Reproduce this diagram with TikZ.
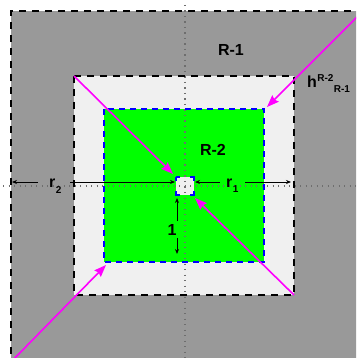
\documentclass[tikz,border=0pt]{standalone}
\usepackage{fontspec}
\setmainfont{Liberation Sans}
\usetikzlibrary{arrows.meta}
\definecolor{outergray}{RGB}{153,153,153}
\definecolor{lightfill}{RGB}{240,240,240}
\definecolor{greenfill}{RGB}{0,255,0}
\definecolor{mag}{RGB}{255,0,255}
\definecolor{dotgray}{RGB}{110,110,110}
\tikzset{
  blackdash/.style={draw=black,line width=1.3pt,dash pattern=on 7pt off 6pt},
  bluedash/.style={draw=blue,line width=1.4pt,dash pattern=on 6pt off 5pt},
  axisdot/.style={draw=dotgray,line width=1.1pt,dash pattern=on 1.1pt off 4.4pt},
  magarrow/.style={draw=mag,line width=1.6pt,-{Stealth[length=12pt,width=9pt,inset=1.5pt]}},
  dimarrow/.style={draw=black,line width=0.8pt,-{Stealth[length=5pt,width=4pt]}},
  lab/.style={font=\fontsize{16}{16}\selectfont\bfseries,inner sep=0pt,anchor=base},
  smallab/.style={font=\fontsize{10}{10}\selectfont\bfseries,inner sep=0pt,anchor=base west}
}
\begin{document}
\begin{tikzpicture}[x=1pt,y=-1pt]
\useasboundingbox (0,0) rectangle (356,358);
\clip (0,0) rectangle (356,358);
% fills
\fill[white] (0,0) rectangle (356,358);
\fill[outergray] (11,11) rectangle (380,380);
\fill[lightfill] (74,76) rectangle (294,295);
\fill[greenfill] (104,109) rectangle (264,262);
\fill[lightfill] (176,177) rectangle (194,195);
% axes
\draw[axisdot] (185,5) -- (185,358);
\draw[axisdot] (3,186) -- (356,186);
% borders
\draw[blackdash] (11,380) -- (11,11) -- (380,11);
\draw[blackdash] (74,76) rectangle (294,295);
\draw[bluedash] (104,109) rectangle (264,262);
\draw[draw=blue,line width=1.6pt,dash pattern=on 8pt off 10pt,dash phase=4pt] (176,177) -- (194,177) -- (194,195) -- (176,195) -- cycle;
% coordinates
\coordinate (m1s) at (74,76);
\coordinate (m1e) at (173,174);
\coordinate (m2s) at (294,295);
\coordinate (m2e) at (195,198);
\coordinate (m3s) at (366,8);
\coordinate (m3e) at (267,107);
\coordinate (m4s) at (8,365);
\coordinate (m4e) at (106,265);
\draw[magarrow] (m1s) -- (m1e);
\draw[magarrow] (m2s) -- (m2e);
\draw[magarrow] (m3s) -- (m3e);
\draw[magarrow] (m4s) -- (m4e);
% dimension arrows
\coordinate (r1a) at (220,182);
\coordinate (r1b) at (195,182);
\coordinate (r1c) at (245,182);
\coordinate (r1d) at (291,182);
\draw[dimarrow] (r1a) -- (r1b);
\draw[dimarrow] (r1c) -- (r1d);
\coordinate (r2a) at (38,182);
\coordinate (r2b) at (12,182);
\coordinate (r2c) at (70,182);
\coordinate (r2d) at (175,182);
\draw[dimarrow] (r2a) -- (r2b);
\draw[dimarrow] (r2c) -- (r2d);
\coordinate (oa) at (177,221);
\coordinate (ob) at (177,198);
\coordinate (oc) at (177,238);
\coordinate (od) at (177,254);
\draw[dimarrow] (oa) -- (ob);
\draw[dimarrow] (oc) -- (od);
% labels
\node[lab] (R1) at (231,56) {R-1};
\node[lab] (R2) at (213,156) {R-2};
\node[lab,anchor=base west] (r1) at (226,187) {r};
\node[smallab] (r1s) at (r1.base east) [yshift=-5.5pt] {1};
\node[lab,anchor=base west] (r2) at (49,187) {r};
\node[smallab] (r2s) at (r2.base east) [yshift=-6pt] {2};
\node[lab] (one) at (172,235) {1};
\node[lab,anchor=base west] (h) at (307,88) {h};
\node[smallab] (hsup) at (h.base east) [yshift=6pt] {R-2};
\node[smallab] (hsub) at (hsup.base east) [yshift=-11pt] {R-1};
\end{tikzpicture}
\end{document}
